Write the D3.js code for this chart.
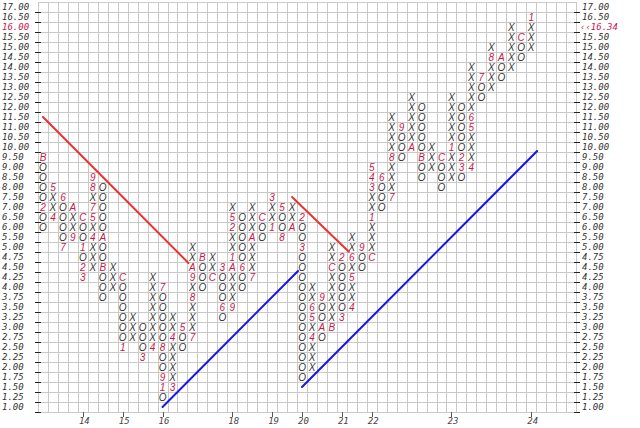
<!DOCTYPE html>
<html><head><meta charset="utf-8">
<script src="https://cdn.jsdelivr.net/npm/d3@7/dist/d3.min.js"></script>
<style>body{margin:0;background:#fff}svg{display:block}</style>
</head><body><svg id="c" width="640" height="428"></svg>
<script>
// ---- data ----
const priceTicks = [17.00,16.50,16.00,15.50,15.00,14.50,14.00,13.50,13.00,12.50,12.00,11.50,11.00,10.50,10.00,9.50,9.00,8.50,8.00,7.50,7.00,6.50,6.00,5.50,5.00,4.75,4.50,4.25,4.00,3.75,3.50,3.25,3.00,2.75,2.50,2.25,2.00,1.75,1.50,1.25,1.00];
const colType = ["O","X","O","X","O","X","O","X","O","X","O","X","O","X","O","X","O","X","O","X","O","X","O","X","O","X","O","X","O","X","O","X","O","X","O","X","O","X","O","X","O","X","O","X","O","X","O","X","O","X"];
const colStart = [9.50,6.50,7.50,5.50,6.50,4.50,8.00,4.00,4.25,2.75,3.00,2.50,4.00,1.50,3.00,2.75,4.75,4.25,4.50,3.50,6.50,4.25,6.50,6.00,7.00,6.00,6.50,2.00,3.75,3.00,4.75,3.50,5.00,4.75,8.50,7.50,11.00,10.00,12.00,9.00,9.50,8.50,12.00,9.00,13.50,13.00,14.50,14.00,15.50,15.00];
const colBoxes = ["BOOOO2OO","4XX5","6OOOO7","9XXA","COO1O23","XXX4X57X89","OOOOOAOOBOOO","XXX","COOOOOO1","XXX",
  "OOO3","4XXXXXXX","7OOOOO8OO91O","3XXXX4XX","5OO","7XXX8X9AXX","BOOO","CXX","3OOO6O","9XXXA1XX25X",
  "OOOOO6OO","7XXXAXXX","COO","1XX3","5OO8","AXX","2OO3OOOOOOOOOOOOO","XXX4X56XX","9OOAO","BXXXXXCXX",
  "2OOOOO3","4XX5X6XX","9OO","CXXX1XX345","6OOO","7XXX8XXXX","9OOO","AXXXXX","OOOOOBOO","XXX",
  "COOO","XXX1XXXXX","OOOOO23O","4XXX56XXXXX","7OO","XXX8X","AOO","XXXXX","COO","XXX1"];
const yearLabels = ["14","15","16","18","19","20","21","22","23","24"];
const yearCols = [4,8,12,19,23,26,30,33,41,49];
const lastPrice = 16.34;
const lastPriceRow = 16.00;
// trend lines: [startCol, startPrice, endCol, endPrice]
const resistanceLines = [[0,11.50,14.6,4.60],[25,7.50,30.7,4.88]];
const supportLines = [[12,1.00,25.6,4.40],[26,1.50,49.6,9.80]];

// ---- layout ----
const nCols = 54;
const svg = d3.select("#c");
svg.append("rect").attr("width",640).attr("height",428).attr("fill","#fff");
const x = d3.scaleBand().domain(d3.range(nCols)).range([38,576]);
const yRow = d3.scaleBand().domain(priceTicks).range([2,412]);
const bw = x.bandwidth(), bh = yRow.bandwidth();
const xc = d3.scaleLinear().domain([0,nCols-1]).range([x(0)+bw/2, x(nCols-1)+bw/2]);
const yp = d3.scaleLinear().domain([1,5,17]).range([yRow(1)+bh/2, yRow(5)+bh/2, yRow(17)+bh/2]);
const fmt = d3.format(".2f");
const monthColor = "#c8174a";
const ink = "#333";
const mono = "'DejaVu Sans Mono', monospace";

// grid
const g = svg.append("g").attr("stroke","#c9c9c9").attr("stroke-width",1).attr("shape-rendering","crispEdges");
g.selectAll("line.v").data(d3.range(nCols+1)).join("line")
  .attr("x1",i=>Math.round(x(0)+i*bw)+0.5).attr("x2",i=>Math.round(x(0)+i*bw)+0.5)
  .attr("y1",yRow.range()[0]).attr("y2",yRow.range()[1]);
g.selectAll("line.h").data(d3.range(priceTicks.length+1)).join("line")
  .attr("y1",i=>Math.round(yRow.range()[0]+i*bh)+0.5).attr("y2",i=>Math.round(yRow.range()[0]+i*bh)+0.5)
  .attr("x1",x.range()[0]).attr("x2",x.range()[1]);

// axis ticks and labels
const ax = svg.append("g");
ax.selectAll("line.lt").data(priceTicks).join("line")
  .attr("x1",35).attr("x2",41)
  .attr("y1",d=>Math.round(yRow(d)+bh)+0.5).attr("y2",d=>Math.round(yRow(d)+bh)+0.5)
  .attr("stroke","#222").attr("stroke-width",1).attr("shape-rendering","crispEdges");
ax.selectAll("line.rt").data(priceTicks).join("line")
  .attr("x1",574).attr("x2",580)
  .attr("y1",d=>Math.round(yRow(d)+bh)+0.5).attr("y2",d=>Math.round(yRow(d)+bh)+0.5)
  .attr("stroke","#222").attr("stroke-width",1).attr("shape-rendering","crispEdges");
ax.selectAll("text.ll").data(priceTicks).join("text")
  .attr("x",2).attr("y",d=>yRow(d)+bh/2).attr("dy","0.35em")
  .attr("font-family",mono).attr("font-style","italic").attr("font-size",9)
  .attr("fill",d=>d===lastPriceRow?monthColor:ink).text(d=>fmt(d));
ax.selectAll("text.rl").data(priceTicks).join("text")
  .attr("x",d=>d===lastPriceRow?580:582).attr("y",d=>yRow(d)+bh/2).attr("dy","0.35em")
  .attr("font-family",mono).attr("font-style","italic").attr("font-size",9)
  .attr("fill",d=>d===lastPriceRow?monthColor:ink)
  .text(d=>d===lastPriceRow?"\u2039\u2039"+fmt(lastPrice):fmt(d));

// bottom year ticks
ax.selectAll("line.yt").data(yearCols).join("line")
  .attr("x1",c=>Math.round(xc(c))+0.5).attr("x2",c=>Math.round(xc(c))+0.5)
  .attr("y1",412).attr("y2",417).attr("stroke","#555").attr("shape-rendering","crispEdges");
ax.selectAll("text.yl").data(yearCols).join("text")
  .attr("x",c=>xc(c)+1.5).attr("y",421).attr("dy","0.35em").attr("text-anchor","middle")
  .attr("font-family",mono).attr("font-style","italic").attr("font-size",9).attr("fill","#444")
  .text((c,i)=>yearLabels[i]);

// boxes
const cells = [];
colBoxes.forEach((s,ci)=>{
  let idx = priceTicks.indexOf(colStart[ci]);
  const dir = colType[ci]==="X" ? -1 : 1;
  for (const ch of s) {
    cells.push({col:ci, price:priceTicks[idx], ch:ch, month: ch!=="X" && ch!=="O"});
    idx += dir;
  }
});
svg.append("g").selectAll("text").data(cells).join("text")
  .attr("x",d=>xc(d.col)).attr("y",d=>yp(d.price)).attr("dy","0.36em")
  .attr("text-anchor","middle")
  .attr("font-family","'Liberation Sans', Arial, sans-serif").attr("font-style","italic")
  .attr("font-size",10)
  .attr("fill",d=>d.month?monthColor:ink)
  .text(d=>d.ch);

// trend lines
const tl = svg.append("g").attr("stroke-width",2).attr("stroke-linecap","round");
tl.selectAll("line.r").data(resistanceLines).join("line")
  .attr("x1",d=>xc(d[0])).attr("y1",d=>yp(d[1])).attr("x2",d=>xc(d[2])).attr("y2",d=>yp(d[3]))
  .attr("stroke","#e8352b");
tl.selectAll("line.b").data(supportLines).join("line")
  .attr("x1",d=>xc(d[0])).attr("y1",d=>yp(d[1])).attr("x2",d=>xc(d[2])).attr("y2",d=>yp(d[3]))
  .attr("stroke","#1616e6");
</script></body></html>
